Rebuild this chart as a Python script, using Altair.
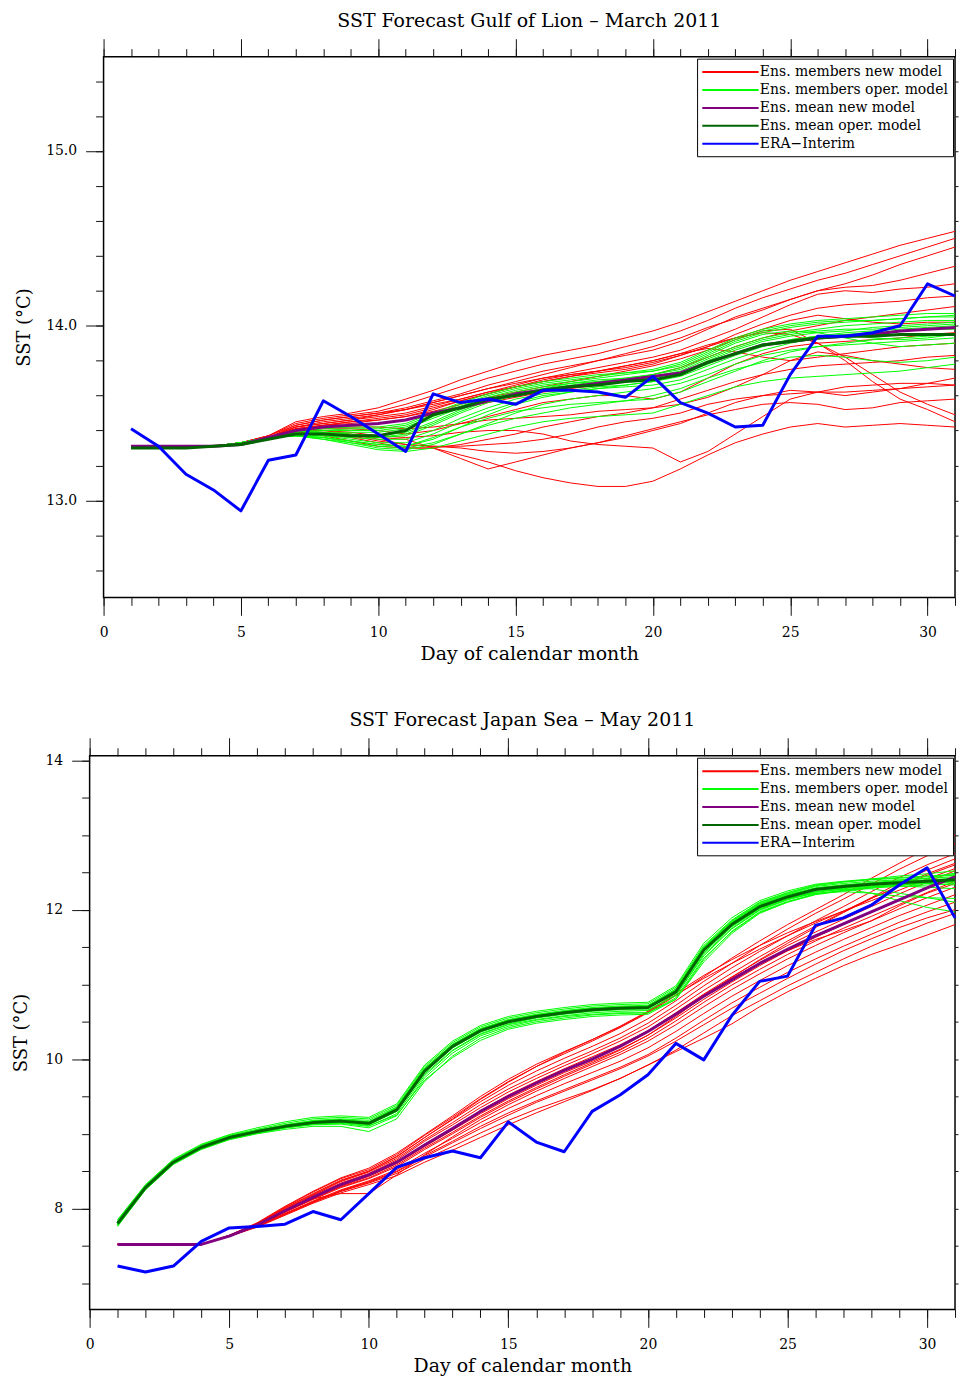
import altair as alt
import pandas as pd

FONT = "DejaVu Serif"
INK = "#111111"
DAYS = list(range(1, 32))

SERIES = ["Ens. members new model", "Ens. members oper. model",
          "Ens. mean new model", "Ens. mean oper. model", "ERA\u2212Interim"]
COLORS = ["#ff0000", "#00ff00", "#800080", "#006400", "#0000ff"]
WIDTHS = [1, 1, 3, 3, 3]

# ---------------- Gulf of Lion, March 2011 ----------------
lion_new_members = [
    [13.31,13.31,13.31,13.31,13.33, 13.37,13.45,13.48,13.50,13.53, 13.58,13.63,13.69,13.74,13.79, 13.83,13.86,13.89,13.93,13.97, 14.02,14.08,14.14,14.20,14.26, 14.31,14.36,14.41,14.46,14.50, 14.54],
    [13.31,13.31,13.31,13.31,13.33, 13.37,13.44,13.47,13.49,13.51, 13.55,13.60,13.65,13.70,13.74, 13.78,13.81,13.84,13.88,13.92, 13.97,14.03,14.10,14.16,14.21, 14.26,14.30,14.35,14.40,14.45, 14.50],
    [13.31,13.31,13.31,13.31,13.33, 13.36,13.43,13.46,13.48,13.50, 13.53,13.57,13.61,13.66,13.70, 13.74,13.77,13.80,13.83,13.86, 13.91,13.98,14.05,14.10,14.15, 14.20,14.24,14.29,14.35,14.40, 14.45],
    [13.31,13.31,13.31,13.31,13.33, 13.36,13.42,13.45,13.47,13.49, 13.52,13.56,13.60,13.64,13.68, 13.72,13.76,13.80,13.84,13.88, 13.93,13.99,14.04,14.09,14.15, 14.20,14.22,14.23,14.26,14.30, 14.34],
    [13.31,13.31,13.31,13.31,13.33, 13.36,13.42,13.44,13.46,13.48, 13.50,13.54,13.58,13.62,13.66, 13.70,13.73,13.76,13.79,13.82, 13.86,13.92,13.98,14.05,14.12, 14.18,14.20,14.19,14.21,14.22, 14.24],
    [13.31,13.31,13.31,13.31,13.33, 13.36,13.41,13.43,13.45,13.46, 13.48,13.52,13.57,13.61,13.65, 13.68,13.71,13.73,13.75,13.78, 13.83,13.88,13.95,14.01,14.06, 14.10,14.12,14.13,14.14,14.16, 14.17],
    [13.31,13.31,13.31,13.31,13.33, 13.36,13.41,13.43,13.44,13.46, 13.48,13.51,13.55,13.59,13.62, 13.65,13.68,13.71,13.74,13.77, 13.81,13.86,13.92,13.97,13.98, 13.90,13.80,13.68,13.58,13.52, 13.45],
    [13.31,13.31,13.31,13.31,13.33, 13.36,13.40,13.42,13.43,13.44, 13.46,13.49,13.53,13.56,13.59, 13.62,13.64,13.66,13.69,13.72, 13.76,13.82,13.88,13.93,13.97, 14.00,14.03,14.05,14.07,14.09, 14.11],
    [13.31,13.31,13.31,13.31,13.33, 13.36,13.40,13.41,13.41,13.40, 13.38,13.40,13.44,13.48,13.52, 13.56,13.58,13.60,13.60,13.58, 13.62,13.70,13.78,13.84,13.88, 13.90,13.91,13.92,13.93,13.95, 13.96],
    [13.31,13.31,13.31,13.31,13.33, 13.36,13.39,13.38,13.36,13.33, 13.30,13.30,13.32,13.35,13.38, 13.42,13.45,13.48,13.50,13.53, 13.58,13.63,13.68,13.72,13.75, 13.77,13.78,13.79,13.80,13.82, 13.83],
    [13.31,13.31,13.31,13.31,13.33, 13.36,13.39,13.37,13.34,13.31, 13.30,13.30,13.26,13.22,13.17, 13.13,13.10,13.08,13.08,13.11, 13.18,13.26,13.33,13.38,13.42, 13.44,13.42,13.43,13.44,13.43, 13.42],
    [13.31,13.31,13.31,13.31,13.33, 13.36,13.40,13.40,13.39,13.37, 13.36,13.37,13.39,13.40,13.40, 13.38,13.34,13.32,13.31,13.30, 13.22,13.28,13.38,13.48,13.58, 13.62,13.65,13.66,13.67,13.67, 13.66],
    [13.31,13.31,13.31,13.31,13.33, 13.36,13.40,13.39,13.37,13.34, 13.32,13.31,13.30,13.28,13.27, 13.28,13.30,13.33,13.37,13.41, 13.45,13.49,13.52,13.55,13.56, 13.55,13.52,13.53,13.56,13.57, 13.58],
    [13.31,13.31,13.31,13.31,13.33, 13.36,13.41,13.42,13.42,13.42, 13.41,13.42,13.44,13.46,13.47, 13.48,13.49,13.51,13.52,13.53, 13.55,13.59,13.65,13.72,13.80, 13.85,13.83,13.80,13.78,13.76, 13.75],
    [13.31,13.31,13.31,13.31,13.33, 13.37,13.43,13.46,13.48,13.50, 13.52,13.55,13.58,13.62,13.65, 13.68,13.71,13.74,13.77,13.80, 13.84,13.89,13.93,13.96,13.95, 13.90,13.82,13.72,13.62,13.55, 13.49],
    [13.31,13.31,13.31,13.31,13.33, 13.36,13.41,13.43,13.45,13.47, 13.49,13.53,13.57,13.61,13.65, 13.69,13.72,13.74,13.76,13.79, 13.83,13.88,13.93,13.98,14.03, 14.06,14.04,14.02,14.01,14.02, 14.02],
    [13.31,13.31,13.31,13.31,13.33, 13.36,13.40,13.40,13.38,13.35, 13.32,13.31,13.31,13.32,13.33, 13.35,13.38,13.42,13.45,13.47, 13.50,13.55,13.58,13.60,13.61, 13.62,13.62,13.63,13.64,13.65, 13.66],
    [13.31,13.31,13.31,13.31,13.33, 13.36,13.42,13.44,13.46,13.49, 13.52,13.56,13.60,13.64,13.67, 13.70,13.72,13.74,13.77,13.80, 13.84,13.87,13.85,13.82,13.80, 13.82,13.84,13.86,13.88,13.89, 13.90],
    [13.31,13.31,13.31,13.31,13.33, 13.36,13.39,13.38,13.37,13.36, 13.35,13.30,13.24,13.18,13.22, 13.26,13.30,13.33,13.36,13.40, 13.44,13.50,13.56,13.60,13.63, 13.62,13.60,13.62,13.64,13.67, 13.70],
]
lion_oper_members = [
    [13.30,13.30,13.30,13.31,13.33, 13.36,13.39,13.41,13.42,13.42, 13.44,13.50,13.56,13.61,13.65, 13.68,13.70,13.72,13.73,13.75, 13.79,13.86,13.93,13.98,14.01, 14.03,14.04,14.05,14.06,14.07, 14.07],
    [13.30,13.30,13.30,13.31,13.33, 13.36,13.38,13.40,13.40,13.40, 13.42,13.48,13.54,13.59,13.63, 13.66,13.68,13.70,13.72,13.74, 13.77,13.84,13.91,13.96,13.99, 14.01,14.02,14.03,14.04,14.05, 14.06],
    [13.30,13.30,13.30,13.31,13.33, 13.36,13.38,13.39,13.38,13.37, 13.39,13.45,13.52,13.57,13.61, 13.64,13.67,13.69,13.70,13.72, 13.75,13.82,13.88,13.93,13.96, 13.98,14.00,14.01,14.02,14.03, 14.03],
    [13.30,13.30,13.30,13.31,13.33, 13.36,13.38,13.38,13.37,13.36, 13.37,13.43,13.50,13.56,13.60, 13.63,13.65,13.67,13.69,13.70, 13.73,13.80,13.86,13.91,13.94, 13.96,13.97,13.99,14.00,14.01, 14.02],
    [13.30,13.30,13.30,13.31,13.33, 13.36,13.37,13.37,13.36,13.35, 13.35,13.40,13.47,13.53,13.58, 13.61,13.63,13.65,13.66,13.68, 13.71,13.77,13.83,13.88,13.92, 13.94,13.96,13.97,13.98,13.99, 14.00],
    [13.30,13.30,13.30,13.31,13.33, 13.36,13.37,13.36,13.34,13.32, 13.31,13.35,13.42,13.49,13.55, 13.59,13.62,13.64,13.65,13.66, 13.69,13.75,13.81,13.86,13.90, 13.93,13.95,13.96,13.97,13.98, 13.98],
    [13.30,13.30,13.30,13.31,13.33, 13.36,13.37,13.36,13.33,13.30, 13.29,13.32,13.38,13.44,13.50, 13.55,13.58,13.60,13.62,13.64, 13.67,13.72,13.78,13.83,13.86, 13.88,13.89,13.90,13.91,13.92, 13.93],
    [13.30,13.30,13.30,13.31,13.33, 13.36,13.37,13.35,13.32,13.29, 13.28,13.30,13.34,13.38,13.42, 13.45,13.47,13.48,13.49,13.50, 13.55,13.60,13.65,13.68,13.70, 13.71,13.72,13.73,13.74,13.76, 13.78],
    [13.30,13.30,13.30,13.31,13.33, 13.36,13.37,13.36,13.34,13.32, 13.31,13.36,13.42,13.47,13.51, 13.53,13.55,13.56,13.57,13.60, 13.64,13.70,13.75,13.79,13.82, 13.83,13.82,13.80,13.79,13.80, 13.82],
    [13.30,13.30,13.30,13.31,13.33, 13.36,13.38,13.39,13.39,13.39, 13.41,13.47,13.53,13.58,13.62, 13.65,13.67,13.68,13.70,13.72, 13.76,13.83,13.90,13.95,13.97, 13.96,13.93,13.90,13.88,13.89, 13.90],
    [13.30,13.30,13.30,13.31,13.33, 13.36,13.38,13.38,13.37,13.36, 13.38,13.44,13.51,13.57,13.61, 13.64,13.66,13.68,13.69,13.71, 13.74,13.81,13.87,13.92,13.95, 13.97,13.98,13.98,13.99,14.00, 14.01],
    [13.30,13.30,13.30,13.31,13.33, 13.36,13.39,13.40,13.41,13.41, 13.43,13.49,13.55,13.60,13.64, 13.67,13.69,13.71,13.73,13.74, 13.78,13.85,13.92,13.97,14.00, 14.02,14.03,14.03,14.04,14.05, 14.05],
    [13.30,13.30,13.30,13.31,13.33, 13.36,13.37,13.35,13.33,13.31, 13.30,13.33,13.38,13.43,13.47, 13.50,13.53,13.55,13.57,13.58, 13.62,13.68,13.74,13.80,13.85, 13.88,13.90,13.92,13.93,13.94, 13.95],
    [13.30,13.30,13.30,13.31,13.33, 13.36,13.38,13.37,13.35,13.33, 13.33,13.38,13.45,13.51,13.56, 13.60,13.62,13.64,13.66,13.68, 13.72,13.78,13.84,13.89,13.92, 13.94,13.95,13.93,13.92,13.93, 13.95],
]
lion_mean_new = [13.31,13.31,13.31,13.31,13.32, 13.36,13.40,13.42,13.43,13.44, 13.46,13.50,13.53,13.57,13.61, 13.63,13.65,13.67,13.69,13.71, 13.73,13.79,13.84,13.89,13.91, 13.93,13.94,13.95,13.97,13.98, 13.99]
lion_mean_oper = [13.30,13.30,13.30,13.31,13.32, 13.35,13.38,13.38,13.37,13.37, 13.40,13.49,13.53,13.58,13.60, 13.63,13.65,13.66,13.68,13.69, 13.72,13.79,13.84,13.89,13.91, 13.93,13.94,13.94,13.95,13.95, 13.95]
lion_era = [13.41,13.31,13.15,13.06,12.94, 13.23,13.26,13.57,13.48,13.38, 13.28,13.61,13.56,13.58,13.55, 13.63,13.63,13.62,13.59,13.71, 13.56,13.50,13.42,13.43,13.72, 13.94,13.94,13.96,14.00,14.24, 14.17]

# ---------------- Japan Sea, May 2011 ----------------
japan_new_members = [
    [7.52,7.52,7.52,7.52,7.64, 7.80,8.02,8.22,8.40,8.52, 8.72,8.98,9.22,9.47,9.70, 9.90,10.07,10.24,10.42,10.62, 10.85,11.10,11.35,11.58,11.80, 12.00,12.20,12.42,12.62,12.82, 13.00],
    [7.52,7.52,7.52,7.52,7.64, 7.80,8.01,8.20,8.38,8.50, 8.70,8.95,9.19,9.43,9.65, 9.84,10.01,10.17,10.34,10.54, 10.78,11.04,11.28,11.52,11.74, 11.95,12.14,12.34,12.54,12.72, 12.88],
    [7.52,7.52,7.52,7.52,7.63, 7.79,7.99,8.18,8.36,8.49, 8.67,8.92,9.15,9.39,9.60, 9.78,9.95,10.11,10.28,10.48, 10.72,10.98,11.22,11.44,11.65, 11.85,12.04,12.24,12.43,12.60, 12.75],
    [7.52,7.52,7.52,7.52,7.63, 7.78,7.98,8.17,8.34,8.47, 8.65,8.90,9.12,9.35,9.56, 9.74,9.91,10.07,10.24,10.43, 10.67,10.92,11.15,11.37,11.58, 11.78,11.97,12.16,12.36,12.53, 12.68],
    [7.52,7.52,7.52,7.52,7.64, 7.81,8.03,8.23,8.41,8.54, 8.74,8.99,9.24,9.50,9.73, 9.93,10.10,10.26,10.43,10.63, 10.86,11.08,11.28,11.47,11.65, 11.82,11.98,12.15,12.31,12.46, 12.60],
    [7.52,7.52,7.52,7.52,7.63, 7.78,7.97,8.15,8.32,8.45, 8.62,8.86,9.08,9.31,9.52, 9.70,9.87,10.03,10.19,10.38, 10.62,10.87,11.10,11.32,11.52, 11.70,11.87,12.04,12.21,12.37, 12.52],
    [7.52,7.52,7.52,7.52,7.63, 7.77,7.96,8.14,8.30,8.43, 8.60,8.83,9.05,9.27,9.47, 9.65,9.82,9.97,10.13,10.32, 10.55,10.80,11.03,11.25,11.45, 11.63,11.80,11.97,12.13,12.30, 12.45],
    [7.52,7.52,7.52,7.52,7.63, 7.77,7.95,8.12,8.28,8.40, 8.56,8.79,9.00,9.22,9.42, 9.60,9.77,9.93,10.09,10.28, 10.51,10.76,10.99,11.20,11.40, 11.58,11.75,11.91,12.07,12.23, 12.38],
    [7.52,7.52,7.52,7.52,7.63, 7.77,7.95,8.13,8.20,8.20, 8.45,8.72,8.96,9.19,9.39, 9.57,9.74,9.90,10.06,10.24, 10.46,10.70,10.93,11.14,11.34, 11.52,11.69,11.85,12.01,12.16, 12.30],
    [7.52,7.52,7.52,7.52,7.63, 7.76,7.93,8.10,8.25,8.37, 8.52,8.74,8.94,9.15,9.34, 9.51,9.67,9.82,9.97,10.15, 10.37,10.61,10.84,11.05,11.25, 11.43,11.60,11.76,11.92,12.06, 12.20],
    [7.52,7.52,7.52,7.52,7.63, 7.76,7.93,8.09,8.24,8.36, 8.50,8.71,8.90,9.10,9.28, 9.44,9.59,9.74,9.89,10.06, 10.28,10.52,10.75,10.96,11.16, 11.34,11.51,11.67,11.83,11.97, 12.10],
    [7.52,7.52,7.52,7.52,7.63, 7.76,7.92,8.08,8.23,8.34, 8.47,8.66,8.83,9.01,9.18, 9.33,9.46,9.59,9.74,9.92, 10.12,10.35,10.58,10.78,10.98, 11.16,11.34,11.51,11.67,11.82, 11.95],
    [7.52,7.52,7.52,7.52,7.63, 7.75,7.91,8.07,8.21,8.32, 8.44,8.62,8.78,8.95,9.12, 9.28,9.43,9.58,9.74,9.92, 10.10,10.28,10.47,10.70,10.90, 11.08,11.25,11.40,11.53,11.66, 11.80],
    [7.52,7.52,7.52,7.52,7.63, 7.77,7.96,8.13,8.29,8.41, 8.58,8.81,9.02,9.24,9.44, 9.62,9.79,9.95,10.12,10.32, 10.57,10.84,11.09,11.33,11.55, 11.76,11.96,12.15,12.32,12.48, 12.62],
    [7.52,7.52,7.52,7.52,7.63, 7.78,7.97,8.15,8.31,8.44, 8.61,8.84,9.06,9.29,9.49, 9.67,9.84,10.00,10.17,10.37, 10.61,10.86,11.08,11.28,11.45, 11.60,11.72,11.85,12.05,12.22, 12.35],
    [7.52,7.52,7.52,7.52,7.64, 7.80,8.00,8.19,8.37,8.50, 8.69,8.95,9.20,9.46,9.69, 9.90,10.09,10.26,10.44,10.64, 10.88,11.12,11.33,11.52,11.69, 11.84,11.98,12.12,12.26,12.41, 12.55],
    [7.52,7.52,7.52,7.52,7.63, 7.76,7.93,8.09,8.23,8.35, 8.49,8.69,8.88,9.07,9.25, 9.42,9.57,9.72,9.87,10.04, 10.24,10.46,10.68,10.88,11.08, 11.27,11.45,11.61,11.76,11.89, 12.00],
]
japan_oper_members = [
    [7.84,8.31,8.65,8.85,8.98, 9.06,9.14,9.20,9.22,9.20, 9.38,9.90,10.22,10.43,10.55, 10.62,10.67,10.71,10.73,10.74, 10.96,11.52,11.86,12.10,12.23, 12.33,12.37,12.40,12.42,12.44, 12.46],
    [7.82,8.30,8.64,8.84,8.97, 9.05,9.12,9.18,9.20,9.18, 9.36,9.88,10.20,10.41,10.53, 10.60,10.65,10.69,10.71,10.72, 10.94,11.50,11.84,12.08,12.21, 12.31,12.35,12.38,12.40,12.42, 12.44],
    [7.79,8.27,8.61,8.81,8.94, 9.02,9.09,9.14,9.16,9.12, 9.30,9.82,10.15,10.36,10.49, 10.56,10.61,10.65,10.67,10.68, 10.92,11.50,11.85,12.09,12.22, 12.32,12.37,12.41,12.45,12.48, 12.52],
    [7.78,8.26,8.60,8.80,8.93, 9.01,9.08,9.13,9.14,9.10, 9.27,9.78,10.11,10.33,10.46, 10.53,10.58,10.62,10.64,10.65, 10.86,11.40,11.75,12.00,12.14, 12.24,12.29,12.32,12.34,12.36, 12.38],
    [7.76,8.25,8.59,8.79,8.92, 9.00,9.06,9.10,9.10,9.03, 9.20,9.70,10.04,10.28,10.42, 10.50,10.55,10.59,10.61,10.62, 10.82,11.35,11.70,11.96,12.10, 12.21,12.26,12.30,12.33,12.35, 12.37],
    [7.77,8.26,8.60,8.80,8.93, 9.01,9.08,9.13,9.15,9.11, 9.25,9.72,10.02,10.25,10.40, 10.48,10.53,10.57,10.59,10.60, 10.80,11.30,11.68,11.95,12.10, 12.20,12.25,12.29,12.31,12.33, 12.35],
    [7.81,8.29,8.63,8.83,8.96, 9.04,9.11,9.16,9.18,9.15, 9.33,9.85,10.18,10.39,10.51, 10.58,10.63,10.67,10.69,10.70, 10.91,11.47,11.81,12.05,12.18, 12.27,12.28,12.22,12.12,12.03, 11.97],
    [7.80,8.28,8.62,8.82,8.95, 9.03,9.10,9.15,9.17,9.14, 9.31,9.83,10.16,10.37,10.49, 10.56,10.61,10.65,10.67,10.68, 10.88,11.42,11.77,12.01,12.14, 12.22,12.24,12.22,12.18,12.16, 12.15],
    [7.85,8.32,8.66,8.86,8.99, 9.08,9.16,9.22,9.24,9.22, 9.40,9.92,10.24,10.45,10.57, 10.64,10.69,10.73,10.75,10.76, 10.98,11.55,11.89,12.12,12.25, 12.34,12.38,12.41,12.43,12.45, 12.47],
    [7.79,8.27,8.61,8.81,8.94, 9.02,9.09,9.14,9.16,9.13, 9.30,9.80,10.12,10.34,10.47, 10.55,10.60,10.64,10.66,10.66, 10.85,11.38,11.74,11.99,12.13, 12.23,12.28,12.31,12.32,12.30, 12.28],
    [7.82,8.30,8.63,8.83,8.96, 9.04,9.12,9.17,9.19,9.16, 9.35,9.87,10.19,10.40,10.52, 10.59,10.64,10.68,10.70,10.71, 10.93,11.49,11.83,12.07,12.20, 12.29,12.33,12.36,12.39,12.42, 12.49],
    [7.78,8.26,8.60,8.80,8.93, 9.01,9.08,9.12,9.13,9.08, 9.24,9.75,10.08,10.31,10.44, 10.52,10.57,10.60,10.62,10.62, 10.80,11.33,11.71,11.97,12.11, 12.21,12.26,12.30,12.33,12.35, 12.33],
    [7.80,8.29,8.62,8.82,8.95, 9.03,9.10,9.16,9.18,9.15, 9.33,9.86,10.19,10.40,10.52, 10.59,10.63,10.67,10.69,10.70, 10.92,11.48,11.82,12.06,12.19, 12.29,12.33,12.36,12.38,12.40, 12.42],
    [7.81,8.29,8.63,8.83,8.96, 9.04,9.11,9.17,9.19,9.16, 9.34,9.86,10.18,10.39,10.51, 10.58,10.63,10.67,10.69,10.70, 10.91,11.44,11.78,12.02,12.15, 12.24,12.27,12.28,12.22,12.16, 12.10],
]
japan_mean_new = [7.52,7.52,7.52,7.52,7.63, 7.78,7.97,8.15,8.32,8.45, 8.62,8.85,9.07,9.30,9.50, 9.68,9.85,10.00,10.17,10.37, 10.60,10.84,11.06,11.28,11.47, 11.65,11.81,11.97,12.13,12.29, 12.44]
japan_mean_oper = [7.80,8.28,8.62,8.82,8.95, 9.03,9.10,9.15,9.17,9.14, 9.32,9.84,10.17,10.38,10.50, 10.57,10.62,10.66,10.68,10.69, 10.90,11.46,11.80,12.04,12.17, 12.27,12.31,12.34,12.36,12.38, 12.40]
japan_era = [7.23,7.15,7.23,7.56,7.74, 7.76,7.79,7.96,7.85,8.20, 8.55,8.68,8.77,8.68,9.16, 8.89,8.76,9.30,9.52,9.79, 10.21,9.99,10.58,11.04,11.11, 11.79,11.89,12.06,12.33,12.56, 11.89]

# axis tick positions
X_MAJOR = [0, 5, 10, 15, 20, 25, 30]
X_MINOR = list(range(0, 32))
LION_Y_MAJOR = [13.0, 14.0, 15.0]
LION_Y_MINOR = [round(12.6 + 0.2 * i, 1) for i in range(15)]
JAPAN_Y_MAJOR = [8, 10, 12, 14]
JAPAN_Y_MINOR = [7.0 + 0.5 * i for i in range(15)]


def long_frame(members, series):
    rows = []
    for m, vals in enumerate(members):
        assert len(vals) == 31, (series, m, len(vals))
        for d, v in zip(DAYS, vals):
            rows.append({"day": d, "sst": v, "series": series, "member": f"{series} {m}"})
    return pd.DataFrame(rows)


def tick_axis(orient, values, size, labels=False, title=None, fmt=None,
              label_pad=9, title_pad=6, title_size=19):
    kw = dict(orient=orient, values=values, tickSize=size, tickColor=INK,
              tickWidth=1, domain=False, grid=False, labels=labels, title=title)
    if labels:
        kw.update(labelFont=FONT, labelFontSize=14, labelColor="#000",
                  labelPadding=label_pad, labelFlush=False, format=fmt)
    if title:
        kw.update(titleFont=FONT, titleFontSize=title_size, titleFontWeight="normal",
                  titleColor="#000", titlePadding=title_pad)
    return alt.Axis(**kw)


# legend: a long horizontal stroke as the symbol, one framed box in the corner
legend = alt.Legend(
    title=None, orient="top-right", offset=2,
    symbolType="M-4,0H4", symbolSize=200, symbolStrokeWidth=2, symbolOffset=20,
    labelFont=FONT, labelFontSize=14, labelColor="#000", labelOffset=21, labelLimit=400,
    rowPadding=2, padding=5, fillColor="white", strokeColor="black", cornerRadius=0,
)
color_enc = alt.Color("series:N", scale=alt.Scale(domain=SERIES, range=COLORS), legend=legend)


def panel(title, new_members, oper_members, mean_new, mean_oper, era,
          ydomain, ymajor, yminor, yfmt, width, height, ytitle_pad):
    xs = alt.Scale(domain=[0, 31], nice=False, zero=False)
    ys = alt.Scale(domain=ydomain, nice=False, zero=False)

    frames = [
        long_frame(new_members, SERIES[0]),
        long_frame(oper_members, SERIES[1]),
        long_frame([mean_new], SERIES[2]),
        long_frame([mean_oper], SERIES[3]),
        long_frame([era], SERIES[4]),
    ]
    axes = [
        (tick_axis("bottom", X_MAJOR, 18, labels=True, title="Day of calendar month", fmt="d",
                   label_pad=10, title_pad=5),
         tick_axis("left", ymajor, 18, labels=True, title="SST (\u00b0C)", fmt=yfmt,
                   label_pad=9, title_pad=ytitle_pad, title_size=18)),
        (tick_axis("bottom", X_MINOR, 8), tick_axis("left", yminor, 8)),
        (tick_axis("top", X_MAJOR, 18), tick_axis("right", yminor, 3)),
        (tick_axis("top", X_MINOR, 8), None),
        (None, None),
    ]
    layers = []
    for df, (ax, ay), w in zip(frames, axes, WIDTHS):
        layers.append(
            alt.Chart(df).mark_line(strokeWidth=w, strokeJoin="round").encode(
                x=alt.X("day:Q", scale=xs, axis=ax),
                y=alt.Y("sst:Q", scale=ys, axis=ay),
                detail="member:N",
                color=color_enc,
            )
        )
    return alt.layer(*layers).resolve_axis(x="independent", y="independent").properties(
        width=width, height=height,
        title=alt.TitleParams(title, font=FONT, fontSize=19, fontWeight="normal",
                              color="#000", offset=7, anchor="middle"),
    )


lion = panel("SST Forecast Gulf of Lion \u2013 March 2011",
             lion_new_members, lion_oper_members, lion_mean_new, lion_mean_oper, lion_era,
             [12.445, 15.54], LION_Y_MAJOR, LION_Y_MINOR, ".1f", 855, 543, 12)
japan = panel("SST Forecast Japan Sea \u2013 May 2011",
              japan_new_members, japan_oper_members, japan_mean_new, japan_mean_oper, japan_era,
              [6.65, 14.06], JAPAN_Y_MAJOR, JAPAN_Y_MINOR, "d", 869, 556, 15)

# a blank 1px cell pushes the upper plot 14px to the right of the lower one
spacer = alt.Chart(pd.DataFrame({"v": [0]})).mark_point(opacity=0).encode(
    x=alt.X("v:Q", axis=None), y=alt.Y("v:Q", axis=None)
).properties(width=1, height=1, view=alt.ViewBackground(stroke="transparent"))

top_row = alt.hconcat(spacer, lion, spacing=13, bounds="flush").resolve_scale(
    x="independent", y="independent", color="independent"
).resolve_legend(color="independent")

chart = alt.vconcat(top_row, japan, spacing=46).resolve_scale(
    x="independent", y="independent", color="independent"
).resolve_legend(color="independent").properties(
    padding={"left": 11, "top": 8, "right": 0, "bottom": 0},
    background="white",
).configure_view(stroke="#000", strokeWidth=1.5)

chart.save("out.html", embed_options={"renderer": "svg", "actions": False})
